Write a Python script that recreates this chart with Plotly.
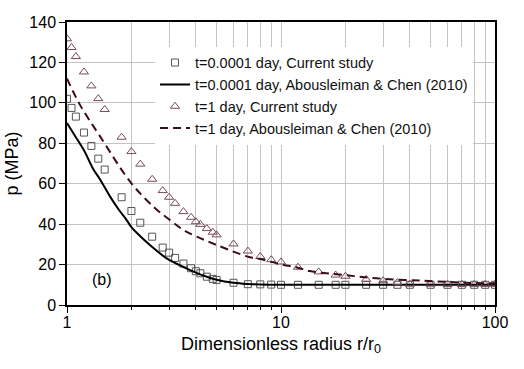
import plotly.graph_objects as go

# r/r0 positions of the numerical results (both times share them)
r_num = [1.0, 1.05, 1.1, 1.2, 1.3, 1.4, 1.5, 1.8, 2.0, 2.2, 2.5, 2.8, 3.0, 3.2, 3.5,
         3.8, 4.0, 4.2, 4.5, 4.8, 5.0, 6, 7, 8, 9, 10, 12, 15, 18, 20, 25, 30, 35,
         40, 50, 60, 70, 80, 90, 100]
p_short_num = [102, 97.5, 93.2, 85.3, 78.7, 72.4, 67, 53.3, 46.5, 40.7, 33.8, 28.4,
               25.9, 23.3, 20.5, 18.2, 16.7, 15.7, 14, 12.9, 12.4, 11, 10.3, 10.2,
               10.1, 10, 10, 10, 10, 10, 10, 10, 10, 10, 10, 10, 10, 10, 10, 10]
p_long_num = [131.7, 127.4, 122.9, 115.3, 108.4, 102.1, 96.7, 83, 75.9, 69.7, 62.2,
              56.6, 53.3, 50.3, 46.2, 43.4, 41.2, 39.9, 37.8, 36, 34.7, 30.2, 26.7,
              24, 22.4, 21.3, 18.7, 16.4, 14.8, 14.2, 12.7, 12, 11.1, 10.3, 10.3,
              10.2, 10.2, 10.2, 10.2, 10.2]

# analytical curves (Abousleiman & Chen 2010)
r_short_an = [1.0, 1.1, 1.2, 1.33, 1.43, 1.59, 1.75, 1.9, 2.0, 2.2, 2.44, 2.8, 3.0,
              3.5, 4.0, 4.5, 5.0, 6, 7, 8, 10, 20, 50, 100]
p_short_an = [90, 83, 76.5, 67, 62, 53.6, 47, 42, 38.5, 34, 29.7, 24.5, 22.3, 18.8,
              16, 14, 12.5, 11, 10.4, 10.15, 10, 10, 10, 10]
r_long_an = [1.0, 1.15, 1.43, 2.0, 2.58, 3.03, 3.5, 4.04, 5.0, 7.16, 8.0, 10.25,
             11.8, 13.6, 19.5, 27.9, 46.2, 73.6, 100]
p_long_an = [112, 99, 83.3, 60.2, 47.9, 42, 37.1, 33.8, 29.7, 23.6, 22.8, 19.8, 18.7,
             16.8, 14.9, 13.2, 12.0, 11.0, 10.7]

FONT = "Arial, Liberation Sans, sans-serif"
GRID = "#c4c4c4"

fig = go.Figure()
fig.add_trace(go.Scatter(
    x=r_num, y=p_short_num, mode="markers", name="t=0.0001 day, Current study",
    marker=dict(symbol="square-open", size=7, color="#555555", line=dict(width=1)),
))
fig.add_trace(go.Scatter(
    x=r_short_an, y=p_short_an, mode="lines", line_shape="spline",
    name="t=0.0001 day, Abousleiman & Chen (2010)",
    line=dict(color="#000000", width=2),
))
fig.add_trace(go.Scatter(
    x=r_num, y=p_long_num, mode="markers", name="t=1 day, Current study",
    marker=dict(symbol="triangle-up-open", size=8, color="#7a4a5c", line=dict(width=1)),
))
fig.add_trace(go.Scatter(
    x=r_long_an, y=p_long_an, mode="lines", line_shape="spline",
    name="t=1 day, Abousleiman & Chen (2010)",
    line=dict(color="#3d0d16", width=2, dash="8px,5px"),
))

fig.add_annotation(x=0.163, y=12.5, xref="x", yref="y", text="(b)", showarrow=False,
                   font=dict(size=16, color="#000000"))

fig.update_layout(
    width=524, height=369,
    margin=dict(l=67, r=29, t=22, b=64, autoexpand=False),
    paper_bgcolor="#ffffff", plot_bgcolor="#ffffff",
    font=dict(family=FONT, color="#000000", size=15),
    showlegend=True,
    legend=dict(x=0.2056, y=0.913, xanchor="left", yanchor="top", bgcolor="#ffffff",
                borderwidth=0, font=dict(size=14.5, color="#111111"),
                tracegroupgap=0, itemwidth=30),
    xaxis=dict(
        type="log", range=[0, 2], dtick=1, automargin=False,
        showline=True, linecolor="#000000", linewidth=1.5, mirror=True,
        ticks="outside", ticklen=6, tickwidth=1.2, tickcolor="#000000",
        showgrid=True, gridcolor=GRID, gridwidth=1,
        tickfont=dict(size=16), ticklabelstandoff=-4,
        minor=dict(dtick="D1", ticks="outside", ticklen=3, tickcolor="#000000",
                   showgrid=True, gridcolor=GRID, gridwidth=1),
        title=dict(text="Dimensionless radius r/r<sub>0</sub>", font=dict(size=18),
                   standoff=7),
        zeroline=False,
    ),
    yaxis=dict(
        range=[0, 140], dtick=20, automargin=False,
        showline=True, linecolor="#000000", linewidth=1.5, mirror=True,
        ticks="outside", ticklen=6, tickwidth=1.2, tickcolor="#000000",
        showgrid=True, gridcolor=GRID, gridwidth=1,
        tickfont=dict(size=16),
        title=dict(text="p (MPa)", font=dict(size=18), standoff=6),
        zeroline=False,
    ),
    yaxis2=dict(
        range=[0, 140], dtick=20, overlaying="y", side="right", anchor="x",
        ticks="inside", ticklen=5, tickwidth=1.2, tickcolor="#000000",
        showticklabels=False, showgrid=False, showline=False, zeroline=False,
    ),
)

fig.write_html("out.html", config={"displayModeBar": False},
               post_script="document.body.style.margin='0';document.body.style.padding='0';")
